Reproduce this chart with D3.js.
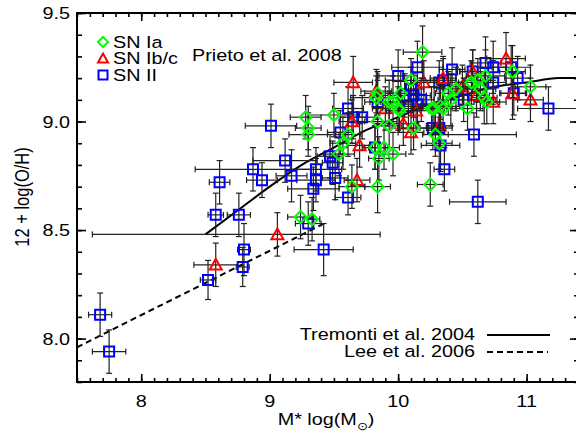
<!DOCTYPE html>
<html>
<head>
<meta charset="utf-8">
<script src="https://cdn.jsdelivr.net/npm/d3@7"></script>
<style>
  body { margin: 0; background: #fff; }
  svg { display: block; font-family: "Liberation Sans", Arial, sans-serif; }
  text { fill: #000; font-size: 16.5px; }
</style>
</head>
<body>
<script>
// rows: [log M*, 12+log(O/H), xerr, yerr, (optional upper xerr)]
const snIa = [
  [9.24, 8.56, 0.10, 0.10], [9.33, 8.55, 0.06, 0.10], [9.28, 9.02, 0.12, 0.10],
  [9.30, 8.97, 0.10, 0.10], [9.30, 8.94, 0.15, 0.10], [9.50, 9.03, 0.20, 0.10],
  [9.57, 8.90, 0.10, 0.12], [9.54, 8.85, 0.12, 0.10], [9.61, 8.94, 0.10, 0.10],
  [9.64, 8.70, 0.10, 0.10], [9.84, 8.70, 0.10, 0.12], [9.85, 8.83, 0.08, 0.10],
  [9.82, 8.88, 0.10, 0.10], [9.89, 8.88, 0.12, 0.10], [9.96, 8.85, 0.10, 0.10],
  [9.84, 9.00, 0.15, 0.12], [9.93, 8.98, 0.10, 0.10], [10.12, 8.97, 0.12, 0.10],
  [10.29, 8.94, 0.10, 0.10], [10.32, 8.90, 0.10, 0.12], [10.25, 8.71, 0.10, 0.10],
  [9.83, 9.11, 0.20, 0.10], [10.19, 9.32, 0.15, 0.12], [10.10, 9.19, 0.20, 0.10],
  [10.02, 9.13, 0.10, 0.10], [9.93, 9.09, 0.15, 0.10], [9.96, 9.09, 0.10, 0.12],
  [10.00, 9.06, 0.12, 0.10], [9.84, 9.13, 0.10, 0.10], [10.26, 9.06, 0.10, 0.10],
  [10.33, 9.07, 0.15, 0.10], [10.89, 9.23, 0.10, 0.12], [11.03, 9.16, 0.12, 0.10],
  [10.62, 9.19, 0.10, 0.10], [10.68, 9.21, 0.15, 0.12], [10.57, 9.18, 0.10, 0.10],
  [10.64, 9.15, 0.12, 0.10], [10.67, 9.11, 0.10, 0.12], [10.69, 9.09, 0.10, 0.10],
  [10.54, 9.06, 0.12, 0.10], [10.35, 9.06, 0.10, 0.10], [10.28, 9.06, 0.10, 0.10],
  [10.45, 9.15, 0.15, 0.10], [10.41, 9.10, 0.10, 0.12], [10.39, 9.13, 0.10, 0.10],
  [10.01, 9.05, 0.10, 0.10]
];
const snIbc = [
  [8.58, 8.34, 0.17, 0.10], [9.06, 8.48, 1.44, 0.10, 0.80], [9.65, 9.18, 0.15, 0.12],
  [9.83, 9.14, 0.12, 0.10], [9.90, 9.06, 0.10, 0.10], [10.14, 9.05, 0.10, 0.10],
  [10.20, 9.18, 0.10, 0.10], [9.64, 9.00, 0.10, 0.10], [10.04, 8.99, 0.12, 0.10],
  [10.10, 8.95, 0.10, 0.10], [9.68, 8.73, 0.10, 0.10], [9.70, 8.89, 0.10, 0.10],
  [10.32, 8.98, 0.10, 0.10], [10.84, 9.29, 0.15, 0.12], [10.58, 9.23, 0.10, 0.10],
  [10.35, 9.20, 0.10, 0.10], [10.50, 9.16, 0.10, 0.10], [10.89, 9.13, 0.10, 0.12],
  [11.03, 9.10, 0.10, 0.10], [10.74, 9.09, 0.10, 0.10], [10.61, 9.12, 0.10, 0.10]
];
const snII = [
  [7.68, 8.11, 0.09, 0.10], [7.75, 7.94, 0.13, 0.10], [8.52, 8.27, 0.06, 0.09],
  [8.61, 8.72, 0.08, 0.10], [8.58, 8.57, 0.06, 0.10], [8.76, 8.57, 0.09, 0.10],
  [8.80, 8.41, 0.05, 0.12], [8.79, 8.33, 0.05, 0.09], [8.87, 8.78, 0.45, 0.10],
  [8.94, 8.73, 0.12, 0.08], [9.01, 8.98, 0.20, 0.10], [9.12, 8.82, 0.25, 0.10],
  [9.17, 8.75, 0.12, 0.12], [9.36, 8.78, 0.20, 0.10], [9.36, 8.73, 0.15, 0.10],
  [9.34, 8.69, 0.20, 0.10], [9.47, 8.84, 0.10, 0.10], [9.49, 8.81, 0.08, 0.10],
  [9.51, 8.74, 0.10, 0.10], [9.61, 8.65, 0.10, 0.08], [9.42, 8.41, 0.23, 0.12],
  [9.30, 8.53, 0.10, 0.10], [9.55, 8.95, 0.10, 0.10], [9.61, 9.06, 0.12, 0.10],
  [9.65, 9.02, 0.10, 0.10], [9.72, 9.02, 0.10, 0.10], [9.82, 8.88, 0.08, 0.10],
  [9.84, 9.09, 0.10, 0.10], [10.00, 9.21, 0.15, 0.12], [10.15, 9.25, 0.20, 0.12],
  [10.12, 9.12, 0.10, 0.10], [10.18, 9.10, 0.10, 0.10], [10.10, 9.15, 0.10, 0.10],
  [10.05, 9.12, 0.20, 0.10], [10.15, 9.08, 0.15, 0.10], [10.08, 9.07, 0.10, 0.10],
  [10.32, 9.18, 0.20, 0.10], [10.27, 8.97, 0.10, 0.10], [10.32, 8.97, 0.10, 0.10],
  [10.33, 8.89, 0.15, 0.12], [10.36, 8.78, 0.08, 0.10], [10.35, 9.19, 0.10, 0.10],
  [10.42, 9.24, 0.10, 0.10], [10.58, 9.23, 0.10, 0.10], [10.68, 9.27, 0.12, 0.12],
  [10.74, 9.25, 0.10, 0.12], [10.88, 9.25, 0.15, 0.10], [10.93, 9.20, 0.10, 0.10],
  [10.74, 9.18, 0.10, 0.10], [10.90, 9.13, 0.10, 0.10], [10.51, 9.10, 0.10, 0.10],
  [11.17, 9.06, 0.24, 0.10], [10.59, 8.94, 0.33, 0.10], [10.62, 8.63, 0.22, 0.10]
];

// relations
const tremontiMass = [8.5, 8.75, 9.0, 9.25, 9.5, 9.75, 10.0, 10.25, 10.5, 10.75, 11.0, 11.25, 11.4];
const tremontiOH   = [8.48, 8.59, 8.70, 8.80, 8.88, 8.96, 9.02, 9.08, 9.12, 9.16, 9.18, 9.20, 9.20];
const leeMass = [7.5, 9.44];
const leeOH   = [7.96, 8.535];

const xTicks = [8, 9, 10, 11];
const yTicks = [8.0, 8.5, 9.0, 9.5];

const width = 576, height = 433;
const plotLeft = 77, plotRight = 578, plotTop = 13, plotBottom = 382;
const stretch = 1.2;

const x = d3.scaleLinear().domain([7.5, 11.4]).range([plotLeft, plotRight]);
const y = d3.scaleLinear().domain([7.8, 9.5]).range([plotBottom, plotTop]);

const svg = d3.select("body").append("svg")
  .attr("width", width)
  .attr("height", height);

function label(g, px, py, str, anchor) {
  return g.append("text")
    .attr("transform", `translate(${px},${py}) scale(${stretch},1)`)
    .attr("text-anchor", anchor)
    .text(str);
}

// axes, ticks pointing inward on all four sides
const minorX = d3.range(75, 115).map(v => v / 10);
const minorY = d3.range(78, 96).map(v => v / 10);

function drawAxis(axis, tf, vals, size) {
  const g = svg.append("g").attr("transform", tf)
    .call(axis.tickValues(vals).tickSize(size).tickSizeOuter(0).tickFormat(""));
  g.select(".domain").remove();
  g.selectAll("line").attr("stroke", "#000").attr("stroke-width", 1.6);
  return g;
}
drawAxis(d3.axisBottom(x), `translate(0,${plotBottom})`, minorX, -4);
drawAxis(d3.axisBottom(x), `translate(0,${plotBottom})`, xTicks, -8);
drawAxis(d3.axisTop(x), `translate(0,${plotTop})`, minorX, -4);
drawAxis(d3.axisTop(x), `translate(0,${plotTop})`, xTicks, -8);
drawAxis(d3.axisLeft(y), `translate(${plotLeft},0)`, minorY, -5);
drawAxis(d3.axisLeft(y), `translate(${plotLeft},0)`, yTicks, -9);
drawAxis(d3.axisRight(y), `translate(${plotRight},0)`, minorY, -4);
drawAxis(d3.axisRight(y), `translate(${plotRight},0)`, yTicks, -8);

svg.append("rect")
  .attr("x", plotLeft).attr("y", plotTop)
  .attr("width", plotRight - plotLeft).attr("height", plotBottom - plotTop)
  .attr("fill", "none").attr("stroke", "#000").attr("stroke-width", 2);

xTicks.forEach(v => label(svg, x(v), plotBottom + 25, d3.format("d")(v), "middle"));
yTicks.forEach(v => label(svg, plotLeft - 7, y(v) + 6, d3.format(".1f")(v), "end"));

label(svg, 326, 425, "M* log(M", "middle").call(t => {
  t.text("M* log(M");
  t.append("tspan").attr("dy", 5).attr("font-size", "11px").text("\u2299");
  t.append("tspan").attr("dy", -5).text(")");
});

svg.append("text")
  .attr("transform", `translate(29,197) rotate(-90) scale(1,${stretch})`)
  .attr("text-anchor", "middle")
  .text("12 + log(O/H)");

// plot contents
const plot = svg.append("g");

plot.append("path")
  .datum(d3.zip(tremontiMass, tremontiOH))
  .attr("fill", "none").attr("stroke", "#000").attr("stroke-width", 2)
  .attr("d", d3.line().x(d => x(d[0])).y(d => y(d[1])).curve(d3.curveMonotoneX));

plot.append("path")
  .datum(d3.zip(leeMass, leeOH))
  .attr("fill", "none").attr("stroke", "#000").attr("stroke-width", 2)
  .attr("stroke-dasharray", "6,4")
  .attr("d", d3.line().x(d => x(d[0])).y(d => y(d[1])));

const shapes = {
  diamond: r => `M0,${-r}L${r},0L0,${r}L${-r},0Z`,
  triangle: r => `M0,${-r}L${r},${r * 0.8}L${-r},${r * 0.8}Z`,
  square: r => `M${-r},${-r}H${r}V${r}H${-r}Z`
};

const series = [
  { data: snII, shape: "square", size: 5, color: "#0000ff" },
  { data: snIbc, shape: "triangle", size: 6, color: "#ff0000" },
  { data: snIa, shape: "diamond", size: 6, color: "#00ff00" }
];

const cap = 3;
series.forEach(s => {
  const g = plot.append("g");
  const eb = g.selectAll("g.err").data(s.data).join("g")
    .attr("class", "err")
    .attr("stroke", "#222").attr("stroke-width", 1.2);
  eb.each(function (d) {
    const e = d3.select(this);
    const x0 = x(d[0] - d[2]), x1 = x(d[0] + (d[4] ?? d[2]));
    const y0 = y(d[1] - d[3]), y1 = y(d[1] + d[3]);
    const cx = x(d[0]), cy = y(d[1]);
    e.append("line").attr("x1", x0).attr("x2", x1).attr("y1", cy).attr("y2", cy);
    e.append("line").attr("x1", cx).attr("x2", cx).attr("y1", y0).attr("y2", y1);
    e.append("line").attr("x1", x0).attr("x2", x0).attr("y1", cy - cap).attr("y2", cy + cap);
    e.append("line").attr("x1", x1).attr("x2", x1).attr("y1", cy - cap).attr("y2", cy + cap);
    e.append("line").attr("x1", cx - cap).attr("x2", cx + cap).attr("y1", y0).attr("y2", y0);
    e.append("line").attr("x1", cx - cap).attr("x2", cx + cap).attr("y1", y1).attr("y2", y1);
  });
  g.selectAll("path.mark").data(s.data).join("path")
    .attr("class", "mark")
    .attr("transform", d => `translate(${x(d[0])},${y(d[1])})`)
    .attr("d", shapes[s.shape](s.size))
    .attr("fill", "none")
    .attr("stroke", s.color)
    .attr("stroke-width", 2);
});

// legend, upper left
const legendRows = [
  { name: "SN Ia", shape: "diamond", size: 5, color: "#00ff00" },
  { name: "SN Ib/c", shape: "triangle", size: 5, color: "#ff0000" },
  { name: "SN II", shape: "square", size: 4.5, color: "#0000ff" }
];
legendRows.forEach((r, i) => {
  const cy = 42 + i * 16.5;
  svg.append("path")
    .attr("transform", `translate(103,${cy})`)
    .attr("d", shapes[r.shape](r.size))
    .attr("fill", "none").attr("stroke", r.color).attr("stroke-width", 2);
  label(svg, 113, cy + 5.5, r.name, "start");
});
label(svg, 192, 61, "Prieto et al. 2008", "start");

// legend, lower right
label(svg, 475, 340, "Tremonti et al. 2004", "end");
label(svg, 475, 357, "Lee et al. 2006", "end");
svg.append("line").attr("x1", 487).attr("x2", 550).attr("y1", 335).attr("y2", 335)
  .attr("stroke", "#000").attr("stroke-width", 2);
svg.append("line").attr("x1", 487).attr("x2", 548).attr("y1", 352).attr("y2", 352)
  .attr("stroke", "#000").attr("stroke-width", 2).attr("stroke-dasharray", "6,4");
</script>
</body>
</html>
